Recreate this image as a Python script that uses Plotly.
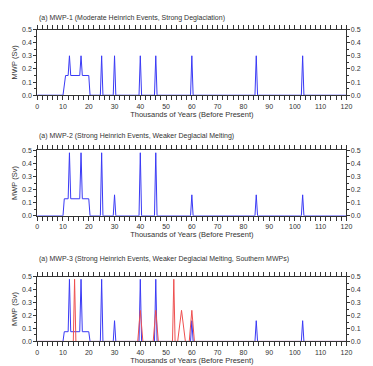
import plotly.graph_objects as go

# ---------------- data ----------------
titles = [
    "(a) MWP-1 (Moderate Heinrich Events, Strong Deglaciation)",
    "(a) MWP-2 (Strong Heinrich Events, Weaker Deglacial Melting)",
    "(a) MWP-3 (Strong Heinrich Events, Weaker Deglacial Melting, Southern MWPs)",
]

# Panel 1 (blue)
p1_x = [0, 10, 11, 12, 12.5, 13, 16.5, 17, 17.5, 20, 20.5,
        24.5, 25, 25.5, 29.5, 30, 30.5, 39.5, 40, 40.5, 45.5, 46, 46.5,
        59.5, 60, 60.5, 84.5, 85, 85.5, 102.5, 103, 103.5, 120]
p1_y = [0, 0, 0.15, 0.15, 0.30, 0.15, 0.15, 0.30, 0.15, 0.15, 0,
        0, 0.30, 0, 0, 0.30, 0, 0, 0.30, 0, 0, 0.30, 0,
        0, 0.30, 0, 0, 0.30, 0, 0, 0.30, 0, 0]

# Panel 2 (blue)
p2_x = [0, 10, 10.5, 12, 12.5, 13, 16.5, 17, 17.5, 20, 20.5,
        24.5, 25, 25.5, 29.5, 30, 30.5, 39.5, 40, 40.5, 45.5, 46, 46.5,
        59.5, 60, 60.5, 84.5, 85, 85.5, 102.5, 103, 103.5, 120]
p2_y = [0, 0, 0.13, 0.13, 0.48, 0.13, 0.13, 0.48, 0.13, 0.13, 0,
        0, 0.48, 0, 0, 0.16, 0, 0, 0.48, 0, 0, 0.48, 0,
        0, 0.16, 0, 0, 0.16, 0, 0, 0.16, 0, 0]

# Panel 3 (blue: northern, red: southern)
p3b_x = [0, 10, 10.5, 12, 12.5, 13, 16.5, 17, 17.5, 20, 20.5,
         24.5, 25, 25.5, 29.5, 30, 30.5, 39.5, 40, 40.5, 45.5, 46, 46.5,
         59.5, 60, 60.5, 84.5, 85, 85.5, 102.5, 103, 103.5, 120]
p3b_y = [0, 0, 0.075, 0.075, 0.48, 0.075, 0.075, 0.48, 0.075, 0.075, 0,
         0, 0.48, 0, 0, 0.16, 0, 0, 0.48, 0, 0, 0.48, 0,
         0, 0.16, 0, 0, 0.16, 0, 0, 0.16, 0, 0]
p3r_x = [0, 14, 14.5, 15, 39, 40, 41, 45, 46, 47,
         52.5, 53, 53.5, 54.5, 56, 57.5, 59, 60, 61, 120]
p3r_y = [0, 0, 0.48, 0, 0, 0.24, 0, 0, 0.24, 0,
         0, 0.48, 0, 0, 0.24, 0, 0, 0.24, 0, 0]

x_ticks = list(range(0, 121, 10))
y_ticks = [0.0, 0.1, 0.2, 0.3, 0.4, 0.5]
y_labels = ["0.0", "0.1", "0.2", "0.3", "0.4", "0.5"]

# ---------------- layout ----------------
W, H = 373, 366
x0px, x1px = 36, 352
panels_px = [(26, 93), (149, 216), (278, 344)]
title_px = [14, 135, 260]
FONT = "Liberation Sans, Arial, sans-serif"
ticklab_font = dict(family=FONT, size=7, color="#333")

BLUE = "#3a3af5"
RED = "#ee5050"

fig = go.Figure()

series = [
    [(p1_x, p1_y, BLUE)],
    [(p2_x, p2_y, BLUE)],
    [(p3b_x, p3b_y, BLUE), (p3r_x, p3r_y, RED)],
]

layout = dict(
    width=W, height=H, margin=dict(l=0, r=0, t=0, b=0),
    paper_bgcolor="white", plot_bgcolor="white", showlegend=False,
    font=ticklab_font,
)
annotations = []
xd = [x0px / W, x1px / W]

for i, (top, bot) in enumerate(panels_px):
    n = i + 1
    xa = "x" if n == 1 else f"x{n}"
    ya = "y" if n == 1 else f"y{n}"
    yr = f"y{n + 3}"
    yd = [1 - bot / H, 1 - top / H]
    for (sx, sy, col) in series[i]:
        fig.add_trace(go.Scatter(x=sx, y=sy, mode="lines", xaxis=xa, yaxis=ya,
                                 line=dict(color=col, width=1), hoverinfo="skip"))
    fig.add_trace(go.Scatter(x=[0], y=[0], mode="markers", xaxis=xa, yaxis=yr,
                             marker=dict(opacity=0), hoverinfo="skip"))
    axx = dict(domain=xd, anchor=ya, range=[0, 120], tickvals=x_ticks,
               ticks="outside", ticklen=4, tickwidth=1, tickcolor="#333",
               showline=True, linecolor="#333", linewidth=1, mirror="allticks",
               showgrid=False, zeroline=False, tickfont=ticklab_font,
               minor=dict(dtick=2, ticks="outside", ticklen=2, tickcolor="#333"),
               title=dict(text="Thousands of Years (Before Present)",
                          font=dict(family=FONT, size=7.5, color="#333"),
                          standoff=2))
    axy = dict(domain=yd, anchor=xa, range=[0, 0.5], tickvals=y_ticks, ticktext=y_labels,
               ticks="outside", ticklen=3, tickwidth=1, tickcolor="#333",
               showline=True, linecolor="#333", linewidth=1, mirror="allticks",
               showgrid=False, zeroline=False, tickfont=ticklab_font,
               minor=dict(dtick=0.05, ticks="outside", ticklen=2, tickcolor="#333"),
               title=dict(text="MWP (Sv)",
                          font=dict(family=FONT, size=7.5, color="#333"),
                          standoff=3))
    axr = dict(overlaying=ya, side="right", anchor=xa, range=[0, 0.5],
               tickvals=y_ticks, ticktext=y_labels, ticks="outside", ticklen=2,
               tickcolor="#333", showline=False, showgrid=False, zeroline=False,
               tickfont=ticklab_font,
               minor=dict(dtick=0.05, ticks="outside", ticklen=2, tickcolor="#333"))
    layout["xaxis" if n == 1 else f"xaxis{n}"] = axx
    layout["yaxis" if n == 1 else f"yaxis{n}"] = axy
    layout[f"yaxis{n + 3}"] = axr
    annotations.append(dict(text=titles[i], xref="paper", yref="paper",
                            x=x0px / W, y=1 - title_px[i] / H, xanchor="left", yanchor="middle",
                            showarrow=False,
                            font=dict(family=FONT, size=7, color="#333")))

layout["annotations"] = annotations
fig.update_layout(**layout)
fig.write_html("out.html", config={"displayModeBar": False},
               post_script="document.body.style.margin='0';document.body.style.overflow='hidden';")
